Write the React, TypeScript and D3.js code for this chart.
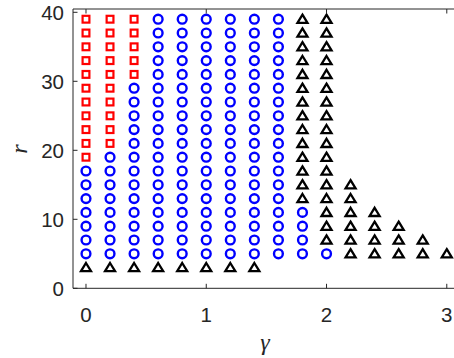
import React from "react";
import * as d3 from "d3";

// Parameter grid: gamma columns and r rows
const gammas = [0, 0.2, 0.4, 0.6, 0.8, 1.0, 1.2, 1.4, 1.6, 1.8, 2.0, 2.2, 2.4, 2.6, 2.8, 3.0];
const rValues = [3, 5, 7, 9, 11, 13, 15, 17, 19, 21, 23, 25, 27, 29, 31, 33, 35, 37, 39];

// Per gamma column: r ranges for each regime (inclusive, step 2); null = none
const squareRange: ([number, number] | null)[] = [
  [19, 39], [21, 39], [31, 39], null, null, null, null, null, null, null, null, null, null, null, null, null,
];
const circleRange: ([number, number] | null)[] = [
  [5, 17], [5, 19], [5, 29], [5, 39], [5, 39], [5, 39], [5, 39], [5, 39], [5, 39], [5, 11], [5, 5], null, null, null, null, null,
];
const triangleRange: ([number, number] | null)[] = [
  [3, 3], [3, 3], [3, 3], [3, 3], [3, 3], [3, 3], [3, 3], [3, 3], null, [13, 39], [7, 39], [5, 15], [5, 11], [5, 9], [5, 7], [5, 5],
];

const xTicks = [0, 1, 2, 3];
const yTicks = [0, 10, 20, 30, 40];

type Pt = { g: number; r: number; kind: "sq" | "ci" | "tr" };

function expand(): Pt[] {
  const pts: Pt[] = [];
  gammas.forEach((g, i) => {
    const add = (rng: [number, number] | null, kind: Pt["kind"]) => {
      if (!rng) return;
      rValues.filter((r) => r >= rng[0] && r <= rng[1]).forEach((r) => pts.push({ g, r, kind }));
    };
    add(squareRange[i], "sq");
    add(circleRange[i], "ci");
    add(triangleRange[i], "tr");
  });
  return pts;
}

const W = 454;
const H = 358;
const left = 73;
const right = 454;
const top = 9;
const bottom = 288.3;

export default function App() {
  const x = d3.scaleLinear().domain([-0.108, 3.06]).range([left, right]);
  const y = d3.scaleLinear().domain([0, 40.48]).range([bottom, top]);
  const pts = expand();
  const axisColor = "#262626";
  const tickLen = 4.5;
  const font = "'Liberation Sans', Arial, Helvetica, sans-serif";

  return (
    <svg
      width={W}
      height={H}
      style={{ position: "absolute", left: 0, top: 0, background: "#fff" }}
    >
      <rect x={0} y={0} width={W} height={H} fill="#fff" />
      {/* markers */}
      {pts.map((p, i) => {
        const cx = x(p.g);
        const cy = y(p.r);
        if (p.kind === "ci")
          return <circle key={i} cx={cx} cy={cy} r={4.4} fill="none" stroke="#0000ff" strokeWidth={2.4} />;
        if (p.kind === "sq")
          return (
            <rect key={i} x={cx - 3.4} y={cy - 3.4} width={6.8} height={6.8} fill="none" stroke="#ff0000" strokeWidth={2.2} />
          );
        return (
          <path
            key={i}
            d={`M${cx},${cy - 4.6} L${cx + 5},${cy + 3.6} L${cx - 5},${cy + 3.6} Z`}
            fill="none"
            stroke="#000"
            strokeWidth={2.3}
            strokeLinejoin="miter"
          />
        );
      })}
      {/* axes box (right edge sits at the canvas border) */}
      <line x1={left} x2={right} y1={bottom} y2={bottom} stroke={axisColor} strokeWidth={1} />
      <line x1={left} x2={right} y1={top} y2={top} stroke={axisColor} strokeWidth={1} />
      <line x1={left} x2={left} y1={top} y2={bottom} stroke={axisColor} strokeWidth={1} />
      {/* x ticks */}
      {xTicks.map((t) => (
        <g key={`x${t}`}>
          <line x1={x(t)} x2={x(t)} y1={bottom} y2={bottom - tickLen} stroke={axisColor} />
          <line x1={x(t)} x2={x(t)} y1={top} y2={top + tickLen} stroke={axisColor} />
          <text x={x(t)} y={321.5} textAnchor="middle" fontFamily={font} fontSize={20.5} fill={axisColor}>
            {t}
          </text>
        </g>
      ))}
      {/* y ticks */}
      {yTicks.map((t) => (
        <g key={`y${t}`}>
          <line x1={left} x2={left + tickLen} y1={y(t)} y2={y(t)} stroke={axisColor} />
          <text x={64} y={y(t) + 7.5} textAnchor="end" fontFamily={font} fontSize={20.5} fill={axisColor}>
            {t}
          </text>
        </g>
      ))}
      {/* axis labels */}
      <text
        x={265}
        y={350}
        textAnchor="middle"
        fontFamily="'Liberation Serif', 'DejaVu Serif', serif"
        fontStyle="italic"
        fontSize={24}
        fill={axisColor}
      >
        γ
      </text>
      <text
        transform={`translate(27,149) rotate(-90)`}
        textAnchor="middle"
        fontFamily="'Liberation Serif', 'DejaVu Serif', serif"
        fontStyle="italic"
        fontSize={24}
        fill={axisColor}
      >
        r
      </text>
    </svg>
  );
}
